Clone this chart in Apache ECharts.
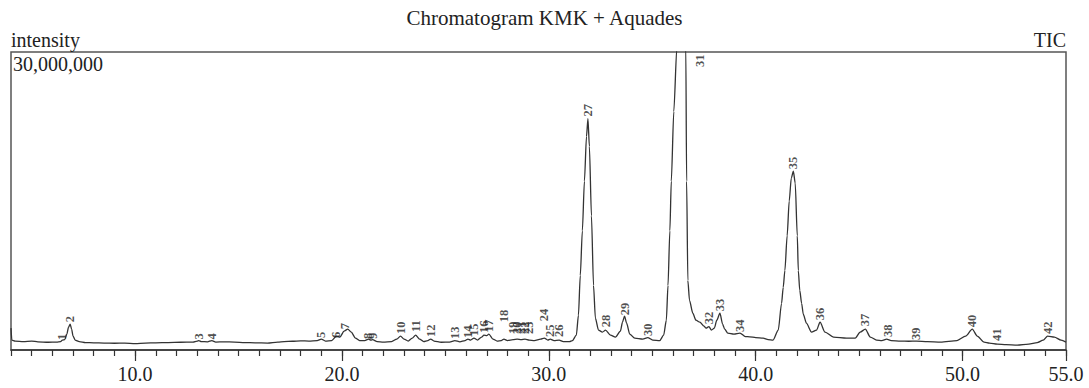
<!DOCTYPE html>
<html>
<head>
<meta charset="utf-8">
<script src="https://cdn.jsdelivr.net/npm/echarts@6/dist/echarts.min.js"></script>
<style>html,body{margin:0;padding:0;background:#fff}#c{width:1089px;height:388px}</style>
</head>
<body>
<div id="c"></div>
<script>
// Retention time (min) and TIC intensity (millions of counts)
const traceTime = [
  4.00,4.04,4.2,4.6,5.0,5.3,5.8,6.2,6.40,6.48,6.60,6.70,6.78,6.86,6.93,7.00,7.10,7.30,7.6,8.0,
  8.5,9.0,9.5,10.0,10.5,11.0,11.6,12.2,12.8,13.0,13.08,13.2,13.5,13.71,13.9,14.3,14.8,15.3,15.8,16.4,
  16.9,17.2,17.6,18.0,18.4,18.8,19.0,19.2,19.5,19.73,19.9,20.1,20.28,20.45,20.65,20.85,21.1,21.28,21.4,21.48,
  21.7,22.0,22.4,22.65,22.83,23.0,23.2,23.4,23.56,23.75,23.95,24.15,24.29,24.45,24.8,25.2,25.46,25.7,25.95,26.09,
  26.22,26.38,26.55,26.75,26.86,27.0,27.1,27.3,27.5,27.7,27.83,28.0,28.27,28.47,28.66,28.85,29.05,29.3,29.6,29.78,
  29.95,30.07,30.25,30.5,30.7,31.0,31.14,31.33,31.43,31.52,31.62,31.72,31.82,31.89,31.96,32.06,32.16,32.25,32.40,32.59,
  32.74,32.98,33.22,33.46,33.56,33.66,33.76,33.91,34.15,34.54,34.78,35.02,35.36,35.55,35.68,35.76,35.85,35.92,36.04,36.19,
  36.29,36.42,36.55,36.62,36.66,36.72,36.80,36.96,37.11,37.30,37.50,37.60,37.74,37.86,38.0,38.12,38.27,38.40,38.50,38.65,
  38.95,39.24,39.50,39.71,40.0,40.36,40.60,40.84,41.09,41.25,41.33,41.41,41.52,41.62,41.72,41.82,41.91,42.01,42.06,42.13,
  42.22,42.30,42.45,42.70,42.94,43.11,43.35,43.76,44.39,44.81,45.05,45.30,45.54,45.84,46.1,46.33,46.55,47.0,47.4,47.77,
  48.3,48.94,49.73,50.15,50.47,50.71,51.04,51.3,51.68,52.1,52.64,53.2,53.61,53.9,54.11,54.44,54.76,55.0
];
const traceIntensity = [
  2.2,1.0,0.9,0.85,0.9,0.82,0.78,0.8,0.85,1.0,1.05,1.6,2.3,2.6,2.1,1.4,1.0,0.85,0.75,0.72,
  0.7,0.68,0.7,0.65,0.7,0.72,0.75,0.78,0.8,0.9,0.95,0.85,0.82,0.95,0.8,0.82,0.8,0.75,0.72,0.7,
  0.8,0.85,0.88,0.92,0.9,0.95,1.1,0.9,0.95,1.4,1.3,1.9,2.1,1.8,1.2,0.95,0.95,1.1,1.0,1.05,
  0.85,0.8,0.85,1.1,1.4,1.1,0.9,1.2,1.5,1.1,0.85,0.95,1.1,0.9,0.78,0.8,0.95,0.82,0.95,1.1,
  1.0,1.2,1.0,1.3,1.5,1.45,1.6,1.1,0.9,0.95,1.1,0.95,1.05,1.1,1.05,1.1,1.0,0.95,1.1,1.2,
  1.0,1.1,0.95,1.0,0.85,0.85,0.95,1.5,3.5,7.5,12.0,17.0,21.5,23.3,20.5,13.5,6.5,3.2,2.0,1.8,
  2.0,1.5,1.3,1.9,2.8,3.4,2.7,1.6,1.2,1.1,1.25,1.0,0.95,1.5,3.0,6.5,12,17,24,30.5,
  34.5,36.5,34.5,30.5,17,7,5,3.7,3.0,2.8,2.4,2.2,2.35,2.0,2.2,3.0,3.7,2.6,2.1,1.7,
  1.6,1.7,1.35,1.33,1.25,1.2,1.05,1.0,2.0,4.7,6.3,8.0,11.5,15.0,17.3,18.0,16.8,11.5,8.0,6.0,
  4.7,3.6,2.7,1.8,2.0,2.8,1.8,1.3,1.2,1.2,1.8,2.1,1.3,1.0,0.95,1.1,0.95,0.9,0.88,0.9,
  0.85,0.8,0.95,1.4,2.1,1.4,0.8,0.7,0.6,0.55,0.5,0.6,0.75,1.0,1.4,1.3,1.0,0.8
];
// Peak numbers, their retention times and the level where each label starts
const peakIds = ['1','2','3','4','5','6','7','8','9','10','11','12','13','14','15','16','17','18','19','20','21',
  '22','23','24','25','26','27','28','29','30','31','32','33','34','35','36','37','38','39','40','41','42'];
const peakTimes = [6.48,6.86,13.08,13.71,19.0,19.73,20.15,21.28,21.48,22.83,23.56,24.29,25.46,26.09,26.38,26.86,27.1,27.83,28.27,28.47,28.66,
  28.85,29.05,29.78,30.07,30.5,31.9,32.74,33.66,34.78,37.3,37.74,38.27,39.24,41.82,43.13,45.26,46.38,47.74,50.46,51.67,54.15];
const peakLabelLevel = [0.9,2.7,0.95,0.95,1.1,1.1,2.0,1.0,1.0,1.5,1.7,1.2,1.0,1.1,1.3,1.6,1.7,2.7,1.5,1.5,1.5,
  1.5,1.5,2.8,1.2,1.2,23.4,2.2,3.4,1.3,28.4,2.5,3.8,1.7,18.1,2.9,2.3,1.2,0.9,2.2,0.8,1.5];
const xLabelValues = [10, 20, 30, 40, 50, 55];
const yTopLabel = '30,000,000';

const trace = traceTime.map((t, i) => [t, traceIntensity[i]]);
const peaks = peakTimes.map((t, i) => ({ value: [t, peakLabelLevel[i]], name: peakIds[i] }));

const serif = "'Liberation Serif', 'DejaVu Serif', serif";
const chart = echarts.init(document.getElementById('c'), null, { renderer: 'svg' });
chart.setOption({
  animation: false,
  backgroundColor: '#fff',
  title: {
    text: 'Chromatogram KMK + Aquades', left: 'center', top: 2,
    textStyle: { fontFamily: serif, fontSize: 21, fontWeight: 'normal', color: '#222' }
  },
  grid: { left: 11, top: 52, width: 1055, height: 298, show: true, borderColor: '#555', borderWidth: 1.5, backgroundColor: 'transparent' },
  xAxis: [{
    type: 'value', min: 4, max: 55, interval: 1,
    axisLine: { show: true, lineStyle: { color: '#333', width: 1.5 } },
    axisTick: { show: true, length: 6, lineStyle: { color: '#333', width: 1.2 } },
    axisLabel: { customValues: xLabelValues, formatter: v => v.toFixed(1), margin: 14,
      fontFamily: serif, fontSize: 20, color: '#222' },
    splitLine: { show: false }
  }, {
    type: 'value', min: 4, max: 55, position: 'bottom', gridIndex: 0,
    axisLine: { show: false },
    axisTick: { show: true, customValues: xLabelValues, length: 11, lineStyle: { color: '#333', width: 1.2 } },
    axisLabel: { show: false },
    splitLine: { show: false }
  }],
  yAxis: {
    type: 'value', min: 0, max: 30,
    axisLine: { show: false }, axisTick: { show: false }, axisLabel: { show: false }, splitLine: { show: false }
  },
  graphic: [
    { type: 'text', left: 11, top: 30, style: { text: 'intensity', font: "20px 'Liberation Serif'", fill: '#222' } },
    { type: 'text', right: 23, top: 30, style: { text: 'TIC', font: "20px 'Liberation Serif'", fill: '#222' } },
    { type: 'text', left: 13, top: 54, style: { text: yTopLabel, font: "20px 'Liberation Serif'", fill: '#222' } }
  ],
  series: [{
    type: 'line', data: trace, showSymbol: false, symbol: 'none', smooth: 0.25, smoothMonotone: 'x',
    clip: true, lineStyle: { color: '#333', width: 1.3 }, silent: true, z: 3
  }, {
    type: 'scatter', data: peaks, symbolSize: 0, silent: true, z: 4,
    label: { show: true, position: 'top', distance: 1, rotate: 90, align: 'left', verticalAlign: 'middle',
      formatter: p => p.name, fontFamily: serif, fontSize: 12.5, fontWeight: 'bold', color: '#222' }
  }]
});
</script>
</body>
</html>
